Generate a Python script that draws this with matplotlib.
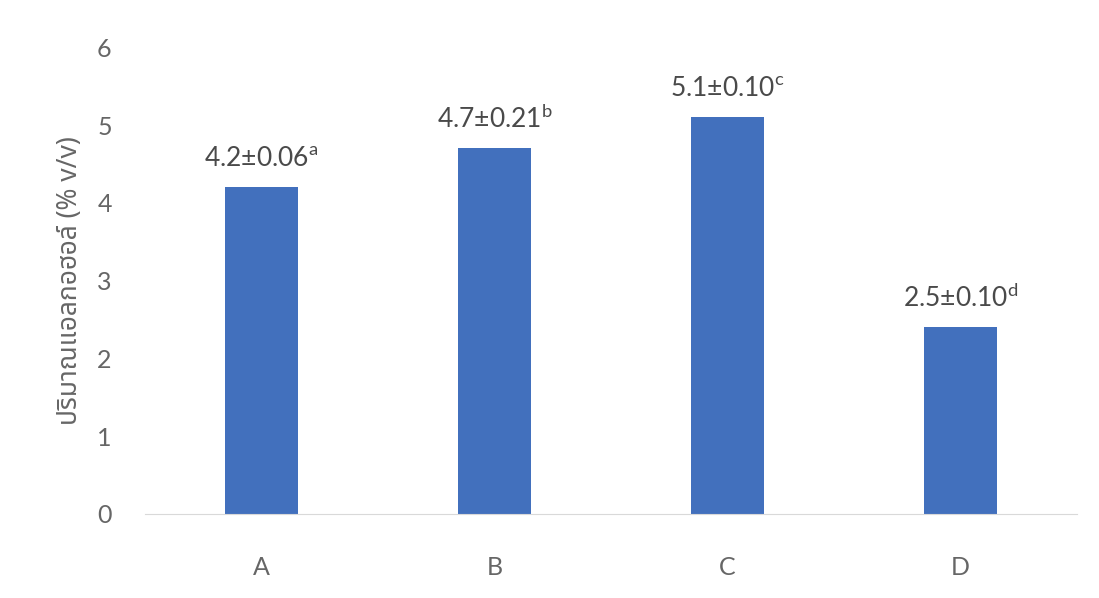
import matplotlib
matplotlib.use("Agg")
import matplotlib.pyplot as plt

categories = ['A', 'B', 'C', 'D']
alcohol = [4.2, 4.7, 5.1, 2.4]
labels = ['4.2±0.06', '4.7±0.21', '5.1±0.10', '2.5±0.10']
letters = ['a', 'b', 'c', 'd']
yticks = [0, 1, 2, 3, 4, 5, 6]

plt.rcParams['font.family'] = ['Lato', 'DejaVu Sans']
plt.rcParams['mathtext.fontset'] = 'custom'
plt.rcParams['mathtext.rm'] = 'Lato'

txt = '#666666'
fig = plt.figure(figsize=(10.99, 5.98), dpi=100)
ax = fig.add_axes([0.132, 0.1405, 0.848, 0.7805])

x = range(len(categories))
ax.bar(x, alcohol, width=0.31, color='#4270BD', zorder=2)

for i, v in enumerate(alcohol):
    ax.text(i, v + 0.2, labels[i] + r'$^{\mathrm{' + letters[i] + '}}$',
            ha='center', va='bottom', fontsize=19, color='#4a4a4a')

ax.set_xlim(-0.5, 3.5)
ax.set_ylim(0, 6)
ax.set_xticks(list(x))
ax.set_xticklabels(categories, fontsize=18, color=txt)
ax.set_yticks(yticks)
ax.set_yticklabels([str(t) for t in yticks], fontsize=18, color=txt)
ax.tick_params(length=0, pad=30, axis='x')
ax.tick_params(length=0, pad=24, axis='y')

for s in ['top', 'right', 'left']:
    ax.spines[s].set_visible(False)
ax.spines['bottom'].set_color('#D9D9D9')

ax.set_ylabel('ปริมาณแอลกอฮอล์ (% v/v)', fontsize=19, color=txt,
              family=['Noto Sans Thai', 'Noto Sans', 'DejaVu Sans'])
ax.yaxis.set_label_coords(-0.066, 0.5)

plt.savefig('out.png', dpi=100)
